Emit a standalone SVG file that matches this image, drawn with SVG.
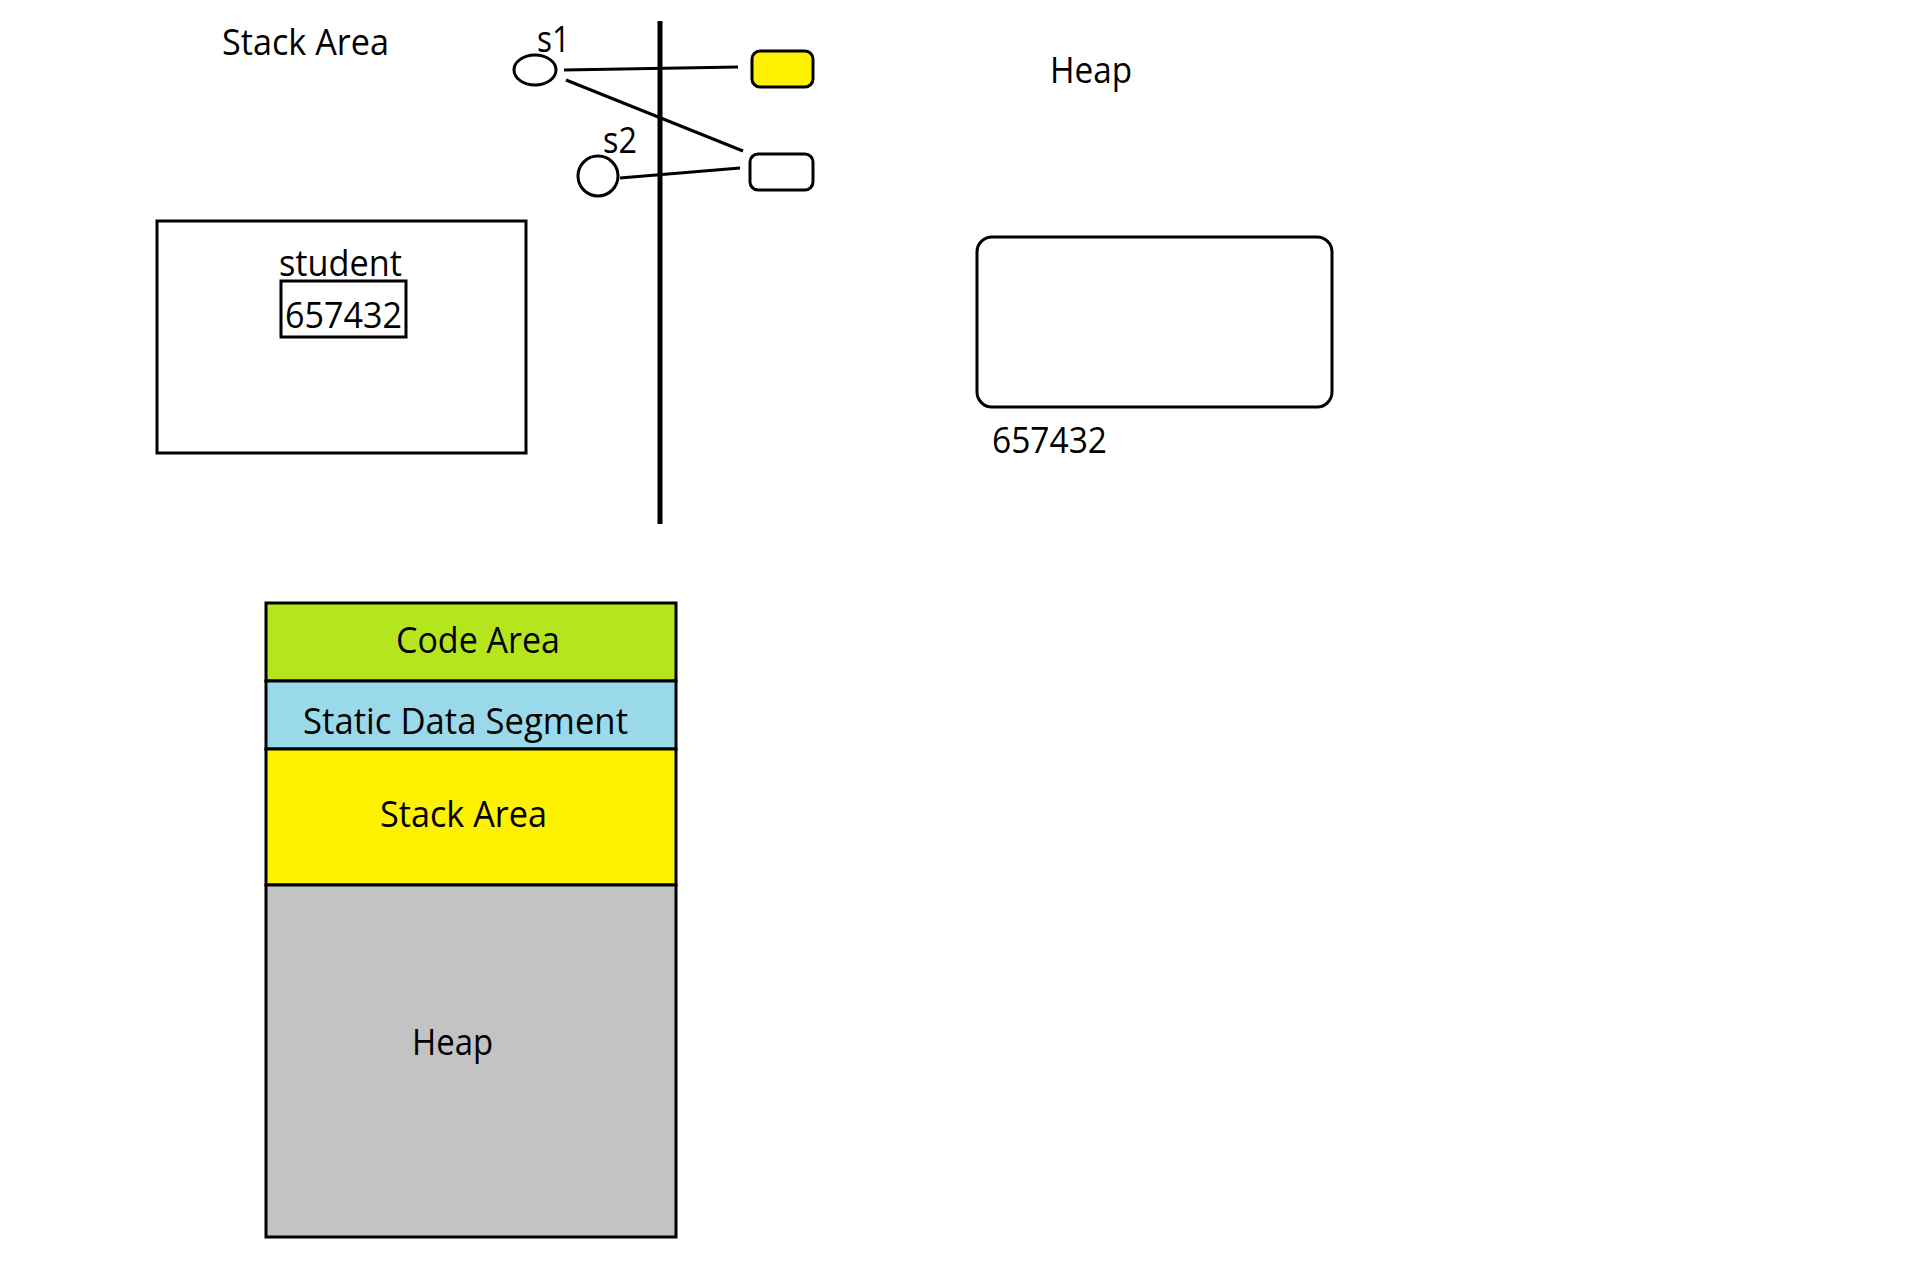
<svg xmlns="http://www.w3.org/2000/svg" width="1914" height="1286" viewBox="0 0 1914 1286">
<style>
text{font-family:"Open Sans","Noto Sans",sans-serif;font-size:36px;fill:#000}
.s{stroke:#000;stroke-width:3;fill:none}
.c{stroke:#000;stroke-width:3}
</style>
<rect width="1914" height="1286" fill="#fff"/>
<g id="labels">
<text x="222" y="55" textLength="167" lengthAdjust="spacingAndGlyphs">Stack Area</text>
<text x="1050" y="83" textLength="82" lengthAdjust="spacingAndGlyphs">Heap</text>
</g>
<g id="divider"><line x1="660" y1="21" x2="660" y2="524" stroke="#000" stroke-width="5"/></g>
<g id="connectors">
<line class="c" x1="564" y1="70" x2="738" y2="67"/>
<line class="c" x1="566" y1="80" x2="743" y2="151"/>
<line class="c" x1="620" y1="178" x2="740" y2="168"/>
</g>
<g id="s1">
<ellipse class="s" cx="535" cy="70" rx="21" ry="15"/>
<text x="537" y="52" textLength="33" lengthAdjust="spacingAndGlyphs">s1</text>
</g>
<g id="s2">
<circle class="s" cx="598" cy="176" r="20"/>
<text x="603" y="153" textLength="34" lengthAdjust="spacingAndGlyphs">s2</text>
</g>
<g id="obj1"><rect x="752" y="51" width="61" height="36" rx="8" fill="#FFF200" stroke="#000" stroke-width="3"/></g>
<g id="obj2"><rect x="750" y="154" width="63" height="36" rx="8" fill="#fff" stroke="#000" stroke-width="3"/></g>
<g id="student">
<rect class="s" x="157" y="221" width="369" height="232"/>
<text x="279" y="276" textLength="123" lengthAdjust="spacingAndGlyphs">student</text>
<rect class="s" x="281" y="281" width="125" height="56"/>
<text x="285" y="328" textLength="117" lengthAdjust="spacingAndGlyphs">657432</text>
</g>
<g id="heapobj">
<rect class="s" x="977" y="237" width="355" height="170" rx="15"/>
<text x="992" y="453" textLength="115" lengthAdjust="spacingAndGlyphs">657432</text>
</g>
<g id="memory">
<rect x="266" y="603" width="410" height="78" fill="#B5E61D" stroke="#000" stroke-width="3"/>
<rect x="266" y="681" width="410" height="68" fill="#99D9EA" stroke="#000" stroke-width="3"/>
<rect x="266" y="749" width="410" height="136" fill="#FFF200" stroke="#000" stroke-width="3"/>
<rect x="266" y="885" width="410" height="352" fill="#C3C3C3" stroke="#000" stroke-width="3"/>
<text x="396" y="653" textLength="164" lengthAdjust="spacingAndGlyphs">Code Area</text>
<text x="303" y="734" textLength="325" lengthAdjust="spacingAndGlyphs">Static Data Segment</text>
<text x="380" y="827" textLength="167" lengthAdjust="spacingAndGlyphs">Stack Area</text>
<text x="412" y="1055" textLength="81" lengthAdjust="spacingAndGlyphs">Heap</text>
</g>
</svg>
